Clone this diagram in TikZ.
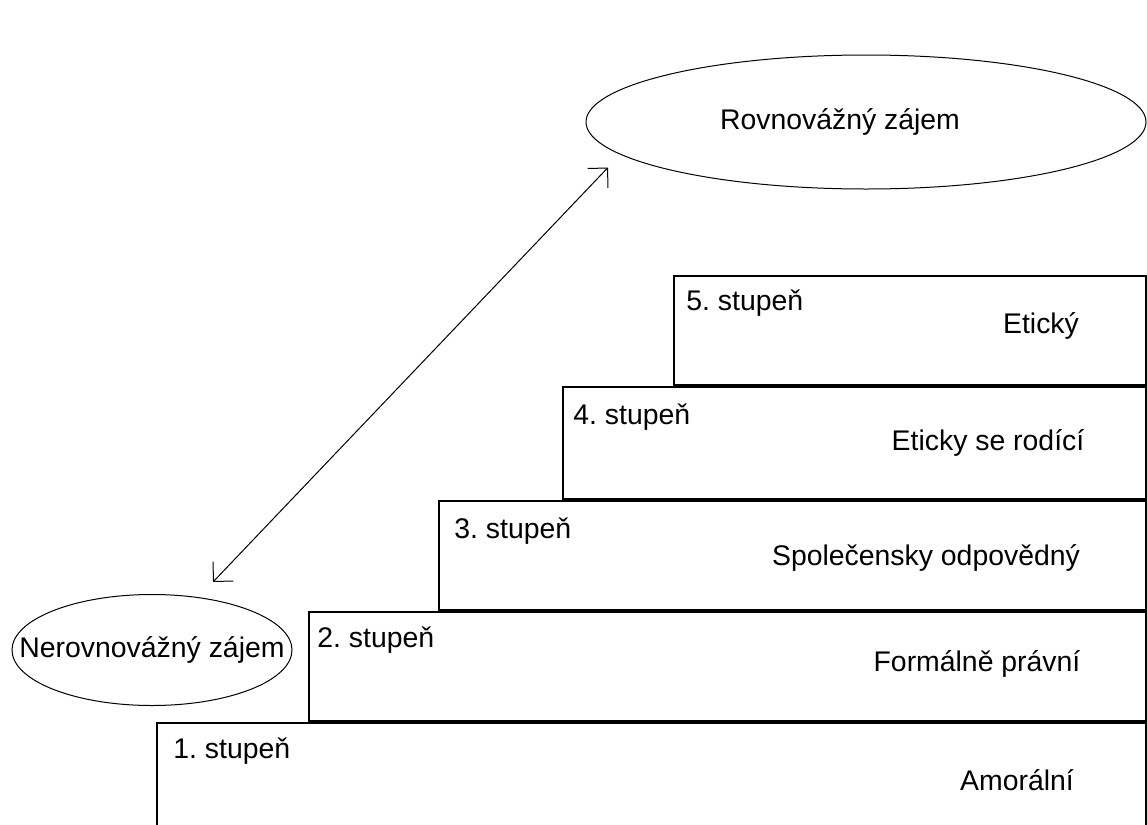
\documentclass[tikz,border=0pt]{standalone}
\usepackage{fontspec}
\setmainfont{Liberation Sans}
\usetikzlibrary{shapes.geometric,arrows.meta}
\frenchspacing

\tikzset{
  stupen/.style={anchor=base west,inner sep=0pt},
  popis/.style={anchor=base,inner sep=0pt},
  zajem/.style={draw,ellipse,line width=0.5pt,inner sep=0pt},
  hrot/.tip={Straight Barb[length=7pt,width=14pt]},
}

\begin{document}
\begin{tikzpicture}[x=0.5pt,y=-0.5pt,font=\fontsize{14.2}{17}\selectfont] %---- schody
\useasboundingbox (0,0) rectangle (1147,825);
\clip (0,0) rectangle (1147,825);
% --- stupne
\foreach \n/\l/\t/\b/\sx/\sy/\txt/\tx/\ty in {
  1/157/723/830/173/758/Amorální/1017/790,
  2/309/612/721/317/647/Formálně právní/977/671,
  3/439/501/610/454/538/Společensky odpovědný/926/565,
  4/563/387/499/573/424/Eticky se rodící/988/450,
  5/674/276/385/686/310/Etický/1041/333}
{
  \draw[line width=0.6pt] (\l,\b) -- (\l,\t) -- (1146,\t) -- (1146,\b) -- cycle;
  \node[stupen] (st\n) at (\sx,\sy) {\n. stupeň};
  \node[popis] (popis\n) at (\tx,\ty) {\txt};
}
% --- zajmy
\node[zajem,minimum width=280pt,minimum height=67pt,
  label={[xshift=-13pt]center:Rovnovážný zájem}] (rovno) at (866,122) {};
\node[zajem,minimum width=140pt,minimum height=55.5pt,
  label={center:Nerovnovážný zájem}] (nerovno) at (152,650) {};
\coordinate (dolu) at ([shift={(61,-12)}]nerovno.north);
\coordinate (nahoru) at ([shift={(-258,-22)}]rovno.south);
\draw[hrot-hrot,line width=0.5pt] (dolu) -- (nahoru);
\end{tikzpicture}
\end{document}
